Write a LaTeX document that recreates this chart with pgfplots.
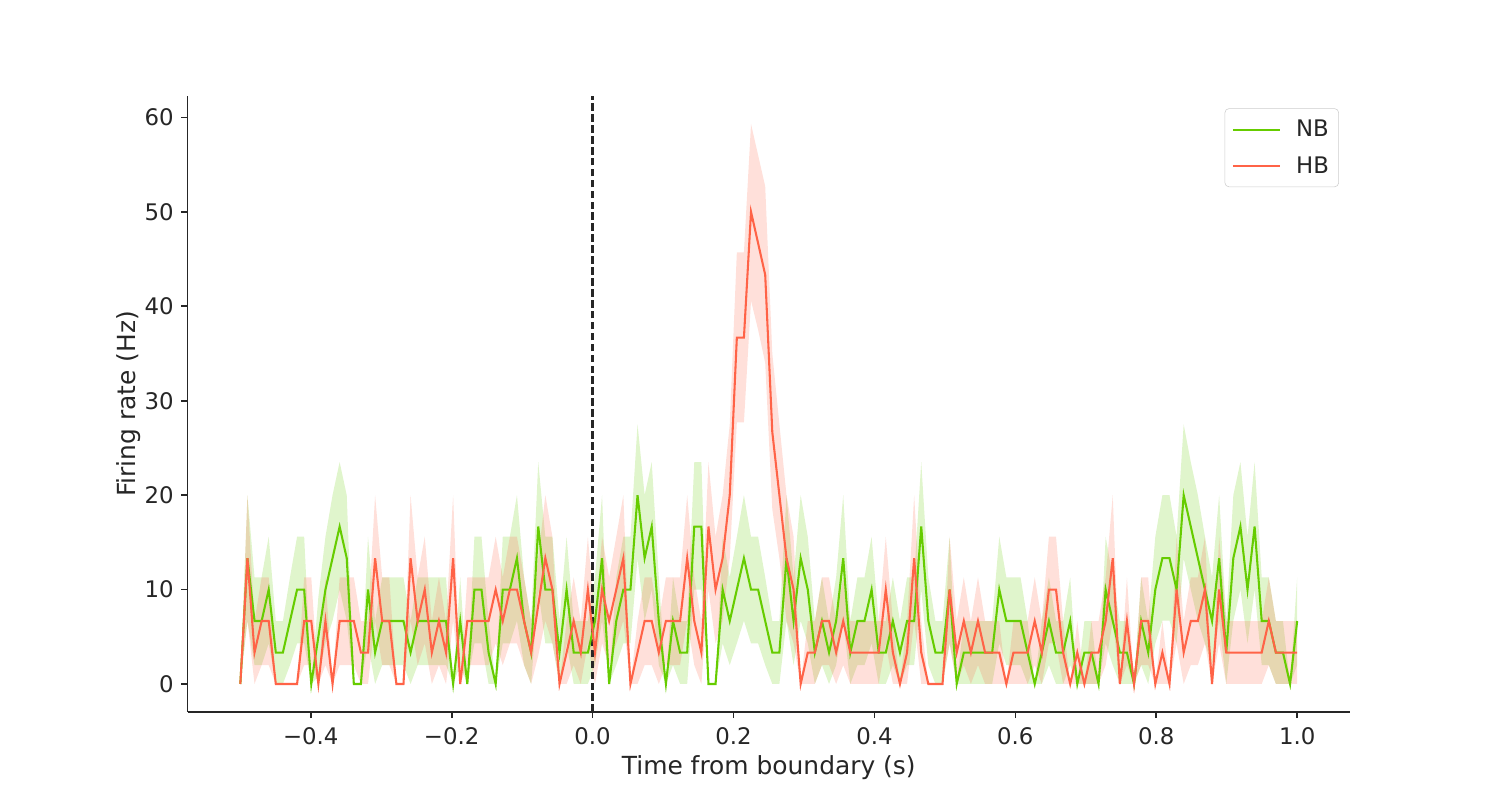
\documentclass[border=0pt]{standalone}
\usepackage{pgfplots}
\pgfplotsset{compat=1.18}
\usepackage{pgfplotstable}
\usepgfplotslibrary{fillbetween}
\usepackage{fontspec}
\setmainfont{DejaVu Sans}
\definecolor{nbgreen}{RGB}{102,204,0}
\definecolor{hbred}{RGB}{255,99,71}
\definecolor{txt}{RGB}{38,38,38}
\pgfplotstableread{
i g glo ghi r rlo rhi
0 0 0 0 0 0 0
1 13.33 6.7 20 13.33 6.7 20
2 6.67 2 11.3 3.33 0 6.67
3 6.67 2 11.3 6.67 2 11.3
4 10 4.3 15.6 6.67 2 11.3
5 3.33 0 6.67 0 0 0
6 3.33 0 6.67 0 0 0
7 6.67 2 11.3 0 0 0
8 10 4.3 15.6 0 0 0
9 10 4.3 15.6 6.67 2 11.3
10 0 0 0 6.67 2 11.3
11 5 0.8 9.2 0 0 0
12 10 4.3 15.6 6.67 2 11.3
13 13.33 6.7 20 0 0 0
14 16.67 10 23.5 6.67 2 11.3
15 13.33 6.7 20 6.67 2 11.3
16 0 0 0 6.67 2 11.3
17 0 0 0 3.33 0 6.67
18 10 4.3 15.6 3.33 0 6.67
19 3.33 0 6.67 13.33 6.7 20
20 6.67 2 11.3 6.67 2 11.3
21 6.67 2 11.3 6.67 2 11.3
22 6.67 2 11.3 0 0 0
23 6.67 2 11.3 0 0 0
24 3.33 0 6.67 13.33 6.7 20
25 6.67 2 11.3 6.67 2 11.3
26 6.67 2 11.3 10 4.3 15.6
27 6.67 2 11.3 3.33 0 6.67
28 6.67 2 11.3 6.67 2 11.3
29 6.67 2 11.3 3.33 0 6.67
30 0 0 0 13.33 6.7 20
31 6.67 2 11.3 0 0 0
32 0 0 0 6.67 2 11.3
33 10 4.3 15.6 6.67 2 11.3
34 10 4.3 15.6 6.67 2 11.3
35 3.33 0 6.67 6.67 2 11.3
36 0 0 0 10 4.3 15.6
37 10 4.3 15.6 6.67 2 11.3
38 10 4.3 15.6 10 4.3 15.6
39 13.33 6.7 20 10 4.3 15.6
40 6.67 2 11.3 6.67 2 11.3
41 3.33 0 6.67 3.33 0 6.67
42 16.67 10 23.5 8.33 3 13.3
43 10 4.3 15.6 13.33 6.7 20
44 10 4.3 15.6 10 4.3 15.6
45 3.33 0 6.67 0 0 0
46 10 4.3 15.6 3.33 0 6.67
47 3.33 0 6.67 6.67 2 11.3
48 3.33 0 6.67 3.33 0 6.67
49 3.33 0 6.67 10 4.3 15.6
50 6.67 2 11.3 3.33 0 6.67
51 13.33 6.7 20 10 4.3 15.6
52 0 0 0 6.67 2 11.3
53 6.67 2 11.3 10 4.3 15.6
54 10 4.3 15.6 13.33 6.7 20
55 10 4.3 15.6 0 0 0
56 20 13.3 27.5 3.33 0 6.67
57 13.33 6.7 20 6.67 2 11.3
58 16.67 10 23.5 6.67 2 11.3
59 6.67 2 11.3 3.33 0 6.67
60 0 0 0 6.67 2 11.3
61 6.67 2 11.3 6.67 2 11.3
62 3.33 0 6.67 6.67 2 11.3
63 3.33 0 6.67 13.33 6.7 20
64 16.67 10 23.5 6.67 2 11.3
65 16.67 10 23.5 3.33 0 6.67
66 0 0 0 16.67 10 23.5
67 0 0 0 10 4.3 15.6
68 10 4.3 15.6 13.33 6.7 20
69 6.67 2 11.3 20 13.3 27.5
70 10 4.3 15.6 36.67 27.7 45.7
71 13.33 6.7 20 36.67 27.7 45.7
72 10 4.3 15.6 50 40.6 59.3
73 10 4.3 15.6 46.67 37.5 56
74 6.67 2 11.3 43.33 34 52.7
75 3.33 0 6.67 26.67 18.5 35
76 3.33 0 6.67 20 13.3 27.5
77 13.33 6.7 20 13.33 6.7 20
78 6.67 2 11.3 10 4.3 15.6
79 13.33 6.7 20 0 0 0
80 10 4.3 15.6 3.33 0 6.67
81 3.33 0 6.67 3.33 0 6.67
82 6.67 2 11.3 6.67 2 11.3
83 3.33 0 6.67 6.67 2 11.3
84 6.67 2 11.3 3.33 0 6.67
85 13.33 6.7 20 6.67 2 11.3
86 3.33 0 6.67 3.33 0 6.67
87 6.67 2 11.3 3.33 0 6.67
88 6.67 2 11.3 3.33 0 6.67
89 10 4.3 15.6 3.33 0 6.67
90 3.33 0 6.67 3.33 0 6.67
91 3.33 0 6.67 10 4.3 15.6
92 6.67 2 11.3 3.33 0 6.67
93 3.33 0 6.67 0 0 0
94 6.67 2 11.3 3.33 0 6.67
95 6.67 2 11.3 13.33 6.7 20
96 16.67 10 23.5 3.33 0 6.67
97 6.67 2 11.3 0 0 0
98 3.33 0 6.67 0 0 0
99 3.33 0 6.67 0 0 0
100 10 4.3 15.6 10 4.3 15.6
101 0 0 0 3.33 0 6.67
102 3.33 0 6.67 6.67 2 11.3
103 3.33 0 6.67 3.33 0 6.67
104 3.33 0 6.67 6.67 2 11.3
105 3.33 0 6.67 3.33 0 6.67
106 3.33 0 6.67 3.33 0 6.67
107 10 4.3 15.6 3.33 0 6.67
108 6.67 2 11.3 0 0 0
109 6.67 2 11.3 3.33 0 6.67
110 6.67 2 11.3 3.33 0 6.67
111 3.33 0 6.67 3.33 0 6.67
112 0 0 0 6.67 2 11.3
113 3.33 0 6.67 3.33 0 6.67
114 6.67 2 11.3 10 4.3 15.6
115 3.33 0 6.67 10 4.3 15.6
116 3.33 0 6.67 3.33 0 6.67
117 6.67 2 11.3 0 0 0
118 0 0 0 3.33 0 6.67
119 3.33 0 6.67 0 0 0
120 3.33 0 6.67 3.33 0 6.67
121 0 0 0 3.33 0 6.67
122 10 4.3 15.6 6.67 2 11.3
123 6.67 2 11.3 13.33 6.7 20
124 3.33 0 6.67 0 0 0
125 3.33 0 6.67 6.67 2 11.3
126 0 0 0 0 0 0
127 6.67 2 11.3 6.67 2 11.3
128 3.33 0 6.67 6.67 2 11.3
129 10 4.3 15.6 0 0 0
130 13.33 6.7 20 3.33 0 6.67
131 13.33 6.7 20 0 0 0
132 10 4.3 15.6 10 4.3 15.6
133 20 13.3 27.5 3.33 0 6.67
134 16.67 10 23.5 6.67 2 11.3
135 13.33 6.7 20 6.67 2 11.3
136 10 4.3 15.6 10 4.3 15.6
137 6.67 2 11.3 0 0 0
138 13.33 6.7 20 10 4.3 15.6
139 3.33 0 6.67 3.33 0 6.67
140 13.33 6.7 20 3.33 0 6.67
141 16.67 10 23.5 3.33 0 6.67
142 10 4.3 15.6 3.33 0 6.67
143 16.67 10 23.5 3.33 0 6.67
144 6.67 2 11.3 3.33 0 6.67
145 6.67 2 11.3 6.67 2 11.3
146 3.33 0 6.67 3.33 0 6.67
147 3.33 0 6.67 3.33 0 6.67
148 0 0 0 3.33 0 6.67
149 6.67 2 11.3 3.33 0 6.67
}\data
\begin{document}
\begin{tikzpicture}
\begin{axis}[
  at={(0,0)}, anchor=south west,
  scale only axis, width=11.625in, height=6.16in,
  xmin=-0.575, xmax=1.075, ymin=-2.965, ymax=62.265,
  axis lines=left,
  axis line style={-, line width=1.2pt, color=txt},
  tick style={line width=1.2pt, color=txt},
  major tick length=4.5pt,
  tick align=outside,
  xtick={-0.4,-0.2,0,0.2,0.4,0.6,0.8,1.0},
  xticklabels={−0.4,−0.2,0.0,0.2,0.4,0.6,0.8,1.0},
  ytick={0,10,20,30,40,50,60},
  yticklabels={0,10,20,30,40,50,60},
  ticklabel style={font=\fontsize{16.5}{19.8}\selectfont, text=txt},
  xticklabel style={yshift=-3.5pt},
  yticklabel style={xshift=-2pt},
  label style={font=\fontsize{18}{21.6}\selectfont, text=txt},
  xlabel={Time from boundary (s)},
  ylabel={Firing rate (Hz)},
  xlabel style={yshift=-0.5pt},
  ylabel style={yshift=-4pt},
  legend style={at={(rel axis cs:0.9905,0.98)}, anchor=north east,
    draw=black!20, fill=white, rounded corners=3pt,
    font=\fontsize{16.5}{19.8}\selectfont, text=txt,
    inner xsep=5pt, inner ysep=6.5pt, row sep=8.5pt},
  legend cell align=left,
  legend image code/.code={\draw[#1] (0pt,0pt) -- (34pt,0pt);},
  /tikz/every odd column/.append style={column sep=9pt},
]
\addplot[draw=none, forget plot, name path=ghi] table[x expr={\thisrow{i}*0.01006711-0.5}, y=ghi]{\data};
\addplot[draw=none, forget plot, name path=glo] table[x expr={\thisrow{i}*0.01006711-0.5}, y=glo]{\data};
\addplot[fill=nbgreen, fill opacity=0.2, draw=none, forget plot] fill between[of=ghi and glo];
\addplot[draw=none, forget plot, name path=rhi] table[x expr={\thisrow{i}*0.01006711-0.5}, y=rhi]{\data};
\addplot[draw=none, forget plot, name path=rlo] table[x expr={\thisrow{i}*0.01006711-0.5}, y=rlo]{\data};
\addplot[fill=hbred, fill opacity=0.2, draw=none, forget plot] fill between[of=rhi and rlo];
\addplot[forget plot, txt, line width=1.8pt, dash pattern=on 5.5pt off 2.4pt] coordinates {(0,-2.965) (0,62.265)};
\addplot[nbgreen, line width=1.5pt, mark=none] table[x expr={\thisrow{i}*0.01006711-0.5}, y=g]{\data};
\addlegendentry{NB}
\addplot[hbred, line width=1.5pt, mark=none] table[x expr={\thisrow{i}*0.01006711-0.5}, y=r]{\data};
\addlegendentry{HB}
\end{axis}
\path (-1.875in,-0.88in) rectangle (13.125in,7.12in);
\end{tikzpicture}
\end{document}
